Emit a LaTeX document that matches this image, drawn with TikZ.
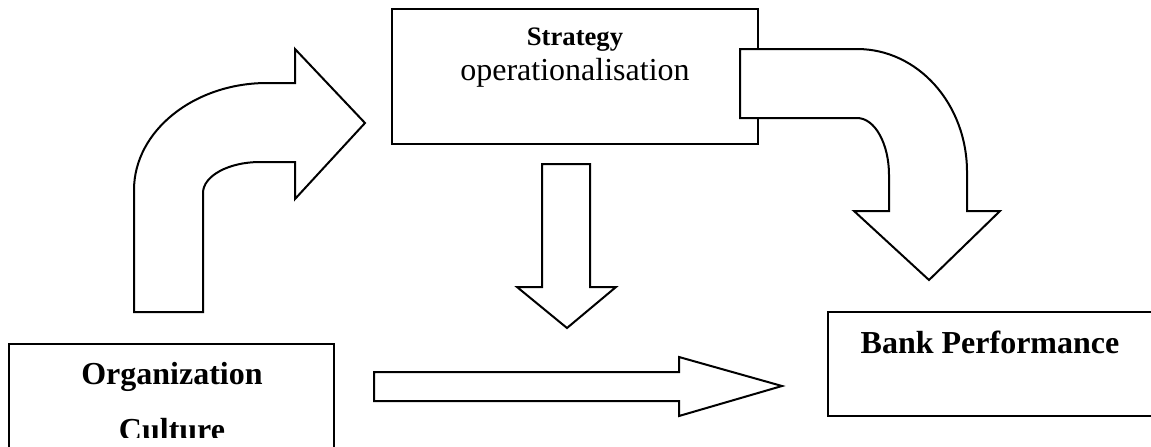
\documentclass[tikz,border=0pt]{standalone}
\usepackage{fontspec}
\setmainfont{Liberation Serif}
\begin{document}
\begin{tikzpicture}[x=0.75pt,y=-0.75pt,
  box/.style={draw=black,line width=1.5pt,fill=white,rectangle,inner sep=0pt},
  blockarrow/.style={draw=black,line width=1.5pt,fill=white,line join=miter},
  bigbold/.style={font=\bfseries\fontsize{24}{28}\selectfont,anchor=base,inner sep=0pt},
  bigplain/.style={font=\fontsize{24}{28}\selectfont,anchor=base,inner sep=0pt},
  smallbold/.style={font=\bfseries\fontsize{20}{24}\selectfont,anchor=base,inner sep=0pt}]
\useasboundingbox (0,0) rectangle (1151,446);
\clip (0,0) rectangle (1151,446);

% boxes
\node[box,minimum width=274.5pt,minimum height=101.25pt] (strat) at (575,76.5) {};
\node[box,minimum width=243.75pt,minimum height=105pt] (culture) at (171.5,414) {};
\node[box,minimum width=243pt,minimum height=78pt] (bank) at (990,364) {};

% labels
\node[smallbold] (stratA) at (575,45) {Strategy};
\node[bigplain] (stratB) at (575,80) {operationalisation};
\node[bigbold] (orgA) at (172,384) {Organization};
\begin{scope}
  \clip (0,0) rectangle (1151,437);
  \node[bigbold] (orgB) at (172,440) {Culture};
\end{scope}
\node[bigbold] (bankA) at (990,353) {Bank Performance};

% bent arrow: culture up to strategy
\draw[blockarrow] (134,312) -- (134,190) .. controls (134,131) and (194,83) .. (267,83)
  -- (295,83) -- (295,49) -- (365,123) -- (295,199) -- (295,162) -- (260,162)
  .. controls (228.5,162) and (203,176) .. (203,193) -- (203,312) -- cycle;

% bent arrow: strategy down to bank performance
\draw[blockarrow] (740,49) -- (857,49) .. controls (918,49) and (967,104) .. (967,172)
  -- (967,211) -- (1000,211) -- (929,280) -- (854,211) -- (889,211) -- (889,175)
  .. controls (889,144) and (875,118) .. (857,118) -- (740,118) -- cycle;

% straight arrow down from strategy
\draw[blockarrow] (542,164) -- (590,164) -- (590,287) -- (616,287) -- (567,328)
  -- (517,287) -- (542,287) -- cycle;

% straight arrow from culture to bank performance
\draw[blockarrow] (374,372) -- (679,372) -- (679,357) -- (782,386) -- (679,416)
  -- (679,401) -- (374,401) -- cycle;
\end{tikzpicture}
\end{document}
